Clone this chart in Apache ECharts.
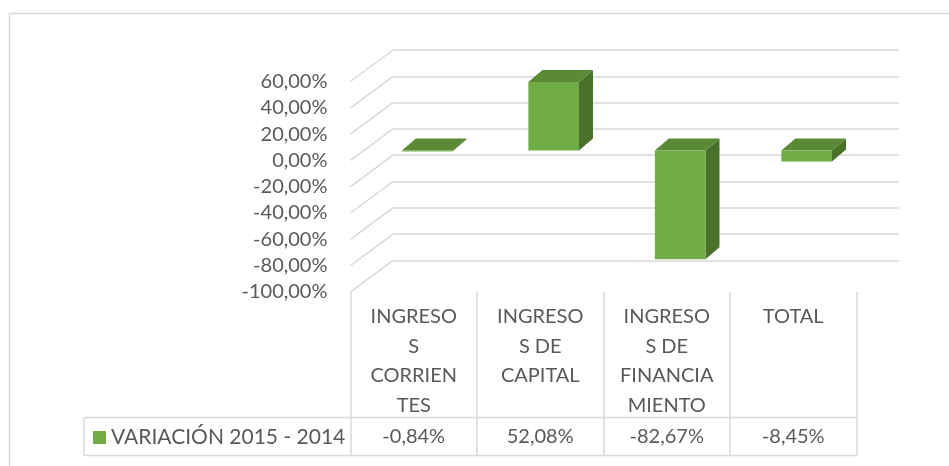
<!DOCTYPE html>
<html>
<head>
<meta charset="utf-8">
<script src="https://cdn.jsdelivr.net/npm/echarts@6/dist/echarts.min.js"></script>
<style>
  html, body { margin: 0; padding: 0; background: #fff; }
  #main { width: 949px; height: 466px; }
</style>
</head>
<body>
<div id="main"></div>
<script>
// data
var categories = ['INGRESOS CORRIENTES', 'INGRESOS DE CAPITAL', 'INGRESOS DE FINANCIAMIENTO', 'TOTAL'];
var categoryLabels = ['INGRESO\nS\nCORRIEN\nTES', 'INGRESO\nS DE\nCAPITAL', 'INGRESO\nS DE\nFINANCIA\nMIENTO', 'TOTAL'];
var seriesName = 'VARIACIÓN 2015 - 2014';
var variacion = [-0.84, 52.08, -82.67, -8.45];
var yTicks = [60, 40, 20, 0, -20, -40, -60, -80, -100];

var FONT = 'Lato, "Open Sans", sans-serif';
var FS = 20;
var TEXT = '#595959';
var GRID = '#d9d9d9';
// depth vector from back wall to front plane
var DX = -42.5, DY = 31.5;
var BAR_T = 0.684;      // front face of bars, fraction of depth from back
var BAR_D = [14, -12];  // bar depth
var BAR_W = 0.40;

function pct(v) {
  return v.toFixed(2).replace('.', ',') + '%';
}

var chart = echarts.init(document.getElementById('main'));

var option = {
  animation: false,
  legend: {
    left: 93,
    top: 427,
    padding: 0,
    icon: 'rect',
    itemWidth: 13,
    itemHeight: 13,
    itemGap: 5,
    selectedMode: false,
    textStyle: { fontFamily: FONT, fontSize: 21, color: TEXT, lineHeight: 20 },
    data: [seriesName]
  },
  grid: [
    // back wall
    { left: 393, top: 50, width: 506, height: 210.4 },
    // front plane
    { left: 350.5, top: 81.5, width: 506, height: 210.4 }
  ],
  xAxis: [
    { gridIndex: 0, type: 'category', data: categories, show: false },
    {
      gridIndex: 1, type: 'category', data: categoryLabels,
      axisLine: { show: false, onZero: false },
      axisTick: { show: true, length: 163, lineStyle: { color: GRID, width: 1.5 } },
      axisLabel: { fontFamily: FONT, fontSize: FS, color: TEXT, lineHeight: 29.5, margin: 10, interval: 0 }
    },
    {
      gridIndex: 1, type: 'category', data: variacion.map(pct), position: 'bottom',
      axisLine: { show: false, onZero: false }, axisTick: { show: false },
      axisLabel: { fontFamily: FONT, fontSize: FS, color: TEXT, lineHeight: 20, margin: 134.7, interval: 0 }
    }
  ],
  yAxis: [
    {
      gridIndex: 0, type: 'value', min: -100, max: 60, interval: 20,
      axisLine: { show: false }, axisTick: { show: false }, axisLabel: { show: false },
      splitLine: { lineStyle: { color: GRID, width: 1.5 } }
    },
    {
      gridIndex: 1, type: 'value', min: -100, max: 60, interval: 20,
      axisLine: { show: false }, axisTick: { show: false }, splitLine: { show: false },
      axisLabel: { fontFamily: FONT, fontSize: FS, color: TEXT, margin: 23, padding: [5, 0, 0, 0], formatter: pct }
    }
  ],
  graphic: [
    { type: 'rect', shape: { x: 9.5, y: 13.5, width: 960, height: 480 }, style: { fill: 'none', stroke: GRID, lineWidth: 1.5 }, silent: true },
    { type: 'line', shape: { x1: 84, y1: 417.5, x2: 857, y2: 417.5 }, style: { stroke: GRID, lineWidth: 1.5 } },
    { type: 'line', shape: { x1: 84, y1: 455.5, x2: 857, y2: 455.5 }, style: { stroke: GRID, lineWidth: 1.5 } },
    { type: 'line', shape: { x1: 84, y1: 417.5, x2: 84, y2: 455.5 }, style: { stroke: GRID, lineWidth: 1.5 } }
  ],
  series: [
    {
      // side wall diagonals
      type: 'custom', xAxisIndex: 0, yAxisIndex: 0, silent: true,
      data: yTicks.map(function (v) { return [0, v]; }),
      renderItem: function (params, api) {
        var p = api.coord([0, api.value(1)]);
        var x0 = params.coordSys.x;
        return {
          type: 'line',
          shape: { x1: x0, y1: p[1], x2: x0 + DX, y2: p[1] + DY },
          style: { stroke: GRID, lineWidth: 1.5 }
        };
      }
    },
    {
      name: seriesName,
      type: 'custom', xAxisIndex: 0, yAxisIndex: 0,
      itemStyle: { color: '#70ad47' },
      data: variacion.map(function (v, i) { return [i, v]; }),
      renderItem: function (params, api) {
        var i = api.value(0), v = api.value(1);
        var c0 = api.coord([i, 0]);
        var c1 = api.coord([i, v]);
        var w = api.size([1, 0])[0] * BAR_W;
        var ox = DX * BAR_T, oy = DY * BAR_T;
        var xl = c0[0] + ox - w / 2, xr = xl + w;
        var yTop = Math.min(c0[1], c1[1]) + oy;
        var yBot = Math.max(c0[1], c1[1]) + oy;
        var dx = BAR_D[0], dy = BAR_D[1];
        return {
          type: 'group',
          children: [
            {
              type: 'polygon',
              shape: { points: [[xr, yTop], [xr + dx, yTop + dy], [xr + dx, yBot + dy], [xr, yBot]] },
              style: { fill: '#4a7129' }
            },
            {
              type: 'polygon',
              shape: { points: [[xl, yTop], [xr, yTop], [xr + dx, yTop + dy], [xl + dx, yTop + dy]] },
              style: { fill: '#5a8a36' }
            },
            {
              type: 'rect',
              shape: { x: xl, y: yTop, width: w, height: Math.max(yBot - yTop, 0.8) },
              style: { fill: '#70ad47' }
            }
          ]
        };
      }
    }
  ]
};

chart.setOption(option);
</script>
</body>
</html>
